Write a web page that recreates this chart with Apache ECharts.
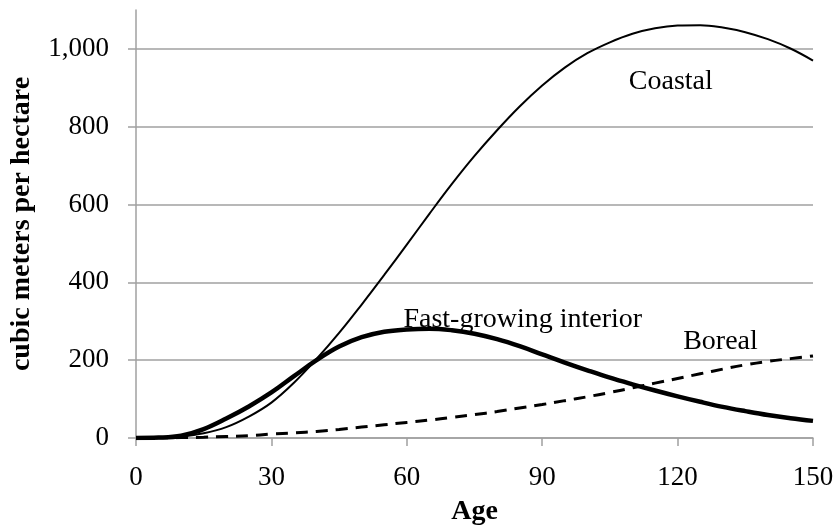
<!DOCTYPE html>
<html>
<head>
<meta charset="utf-8">
<title>Volume by age</title>
<script src="https://cdn.jsdelivr.net/npm/echarts@6/dist/echarts.min.js"></script>
<style>
    html, body { margin: 0; padding: 0; background: #fff; }
    #volumeChart { width: 838px; height: 531px; }
</style>
</head>
<body>
<div id="volumeChart"></div>
<script>
// 数据
var ageList = [0, 5, 10, 15, 20, 25, 30, 35, 40, 45, 50, 55, 60, 65, 70, 75,
    80, 85, 90, 95, 100, 105, 110, 115, 120, 125, 130, 135, 140, 145, 150];
var coastalData = [0, 1, 4, 12, 28, 55, 91, 142, 203, 270, 343, 419, 497, 576, 653, 725,
    791, 852, 906, 952, 989, 1017, 1039, 1053, 1060, 1061, 1055, 1043, 1025, 1001, 970];
var fastData = [0, 1, 6, 23, 50, 81, 117, 159, 200, 235, 259, 273, 279, 281, 277, 268,
    254, 236, 215, 194, 174, 155, 138, 122, 107, 93, 80, 69, 59, 51, 44];
var borealData = [0, 0, 1, 2, 4, 6, 10, 13, 17, 22, 28, 34, 40, 46, 53, 60,
    68, 77, 86, 96, 106, 117, 129, 141, 153, 165, 177, 188, 197, 204, 211];
var yTickList = [0, 200, 400, 600, 800, 1000];

var volumeChartJs = {};
volumeChartJs.fontFamily = '"Liberation Serif", "Times New Roman", serif';
volumeChartJs.axisGrey = '#a0a0a0';

volumeChartJs.toPairs = function (valueArr) {
    var arr = [];
    for (var i = 0; i < ageList.length; i++) {
        arr.push([ageList[i], valueArr[i]]);
    }
    return arr;
};

// 曲线旁边的文字标注
volumeChartJs.noteLabel = function (name, x, y) {
    return {
        symbol: 'circle',
        symbolSize: 1,
        silent: true,
        itemStyle: { color: 'rgba(0,0,0,0)' },
        label: {
            show: true,
            position: 'inside',
            color: '#000',
            fontFamily: volumeChartJs.fontFamily,
            fontSize: 28
        },
        data: [{ coord: [x, y], value: name, label: { formatter: name } }]
    };
};

volumeChartJs.render = function () {
    var myChart = echarts.init(document.getElementById('volumeChart'), null, { renderer: 'canvas' });
    var option = {
        animation: false,
        backgroundColor: '#fff',
        grid: {
            left: 135,
            right: 25,
            top: 10,
            bottom: 90,
            containLabel: false
        },
        xAxis: {
            type: 'value',
            min: 0,
            max: 150,
            interval: 30,
            name: 'Age',
            nameLocation: 'middle',
            nameGap: 60,
            nameTextStyle: {
                color: '#000',
                fontFamily: volumeChartJs.fontFamily,
                fontWeight: 'bold',
                fontSize: 28
            },
            axisLine: { show: true, onZero: false, lineStyle: { color: volumeChartJs.axisGrey, width: 1.5 } },
            axisTick: { show: true, inside: false, length: 8, lineStyle: { color: volumeChartJs.axisGrey, width: 1.5 } },
            axisLabel: {
                color: '#000',
                margin: 26,
                fontFamily: volumeChartJs.fontFamily,
                fontSize: 27
            },
            splitLine: { show: false }
        },
        yAxis: {
            type: 'value',
            min: 0,
            max: 1100,
            interval: 100,
            name: 'cubic meters per hectare',
            nameLocation: 'middle',
            nameGap: 100,
            nameTextStyle: {
                color: '#000',
                fontFamily: volumeChartJs.fontFamily,
                fontWeight: 'bold',
                fontSize: 28
            },
            axisLine: { show: true, onZero: false, lineStyle: { color: volumeChartJs.axisGrey, width: 1.5 } },
            axisTick: { show: true, inside: false, length: 8, lineStyle: { color: volumeChartJs.axisGrey, width: 1.5 },
                customValues: yTickList },
            axisLabel: {
                color: '#000',
                margin: 27,
                fontFamily: volumeChartJs.fontFamily,
                fontSize: 27,
                customValues: yTickList,
                formatter: function (v) {
                    return String(v).replace(/\B(?=(\d{3})+(?!\d))/g, ',');
                }
            },
            splitLine: { show: true, lineStyle: { color: volumeChartJs.axisGrey, width: 1.5 } }
        },
        series: [{
            name: 'Coastal',
            type: 'line',
            smooth: 0.4,
            symbol: 'none',
            lineStyle: { color: '#000', width: 2 },
            data: volumeChartJs.toPairs(coastalData),
            markPoint: volumeChartJs.noteLabel('Coastal', 118.5, 916)
        }, {
            name: 'Fast-growing interior',
            type: 'line',
            smooth: 0.4,
            symbol: 'none',
            lineStyle: { color: '#000', width: 4.5 },
            data: volumeChartJs.toPairs(fastData),
            markPoint: volumeChartJs.noteLabel('Fast-growing interior', 85.7, 304)
        }, {
            name: 'Boreal',
            type: 'line',
            smooth: 0.4,
            symbol: 'none',
            lineStyle: { color: '#000', width: 3, type: [12, 8] },
            data: volumeChartJs.toPairs(borealData),
            markPoint: volumeChartJs.noteLabel('Boreal', 129.5, 247)
        }]
    };
    myChart.setOption(option);
};

volumeChartJs.render();
</script>
</body>
</html>
